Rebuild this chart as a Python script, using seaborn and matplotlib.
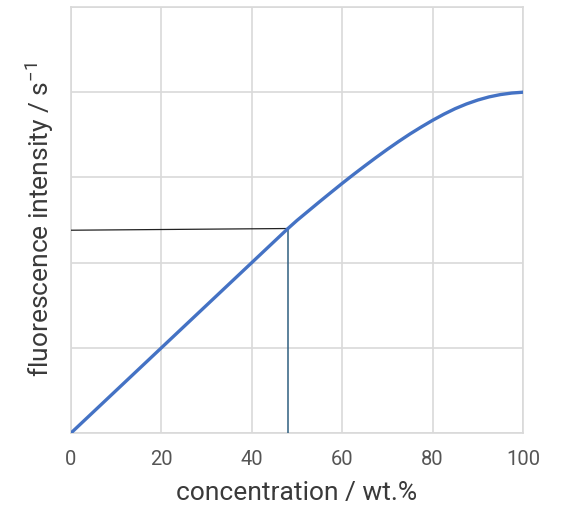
import matplotlib
matplotlib.use("Agg")
import matplotlib.pyplot as plt
import seaborn as sns
import pandas as pd

# Calibration curve: concentration (wt.%) vs fluorescence intensity (s^-1)
concentration = [0, 10, 20, 30, 40, 48, 50, 52.5, 55, 57.5, 60, 62.5, 65, 67.5,
                 70, 72.5, 75, 77.5, 80, 82.5, 85, 87.5, 90, 92.5, 95, 97.5, 100]
intensity = [0, 0.5, 1.0, 1.5, 2.0, 2.4, 2.495, 2.605, 2.715, 2.823, 2.93, 3.034,
             3.135, 3.234, 3.33, 3.422, 3.51, 3.592, 3.67, 3.742, 3.807, 3.862,
             3.908, 3.945, 3.972, 3.99, 4.0]

# Read-off point marked on the curve
sample_conc = 48
sample_intensity = 2.4

x_ticks = [0, 20, 40, 60, 80, 100]
y_grid = [0, 1, 2, 3, 4, 5]

sns.set_theme(style="whitegrid")
plt.rcParams["font.family"] = ["Roboto", "DejaVu Sans"]
plt.rcParams["mathtext.default"] = "regular"

df = pd.DataFrame({"concentration": concentration, "intensity": intensity})

fig = plt.figure(figsize=(5.69, 5.05), dpi=100)
ax = fig.add_axes([71 / 569, 72 / 505, 452 / 569, 426 / 505])

# Guide lines to the axes
ax.plot([0, sample_conc], [sample_intensity - 0.02, sample_intensity],
        color="#222222", lw=0.9, solid_capstyle="butt", zorder=3)
ax.plot([sample_conc, sample_conc], [0, sample_intensity],
        color="#2f5f80", lw=1.1, solid_capstyle="butt", zorder=3)

sns.lineplot(data=df, x="concentration", y="intensity", ax=ax,
             color="#4472C4", lw=2.4, zorder=4,
             solid_joinstyle="round", solid_capstyle="round")

ax.set_xlim(0, 100)
ax.set_ylim(0, 5)
ax.set_xticks(x_ticks)
ax.set_yticks(y_grid)
ax.set_yticklabels([])
ax.grid(True, color="#d9d9d9", lw=1.2)
for s in ax.spines.values():
    s.set_visible(True)
    s.set_color("#d9d9d9")
    s.set_linewidth(1.2)

ax.tick_params(axis="x", length=0, pad=12, labelsize=14.5, labelcolor="#555555")
ax.tick_params(axis="y", length=0, pad=0)

ax.set_xlabel("concentration / wt.%", fontsize=19, color="#3a3a3a",
              labelpad=9)
ax.set_ylabel("fluorescence intensity / s$^{-1}$", fontsize=19, color="#3a3a3a",
              labelpad=11)

fig.savefig("out.png", dpi=100, facecolor="white")
